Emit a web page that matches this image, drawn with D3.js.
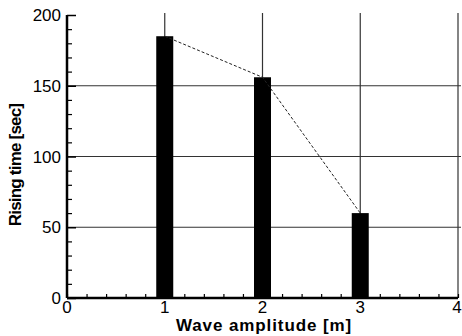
<!DOCTYPE html>
<html>
<head>
<meta charset="utf-8">
<script src="https://cdn.jsdelivr.net/npm/d3@7"></script>
<style>
  body { margin: 0; background: #fff; }
  text { font-family: "Liberation Sans", Arial, sans-serif; }
</style>
</head>
<body>
<svg id="chart"></svg>
<script>
const amplitudes = [1, 2, 3];
const risingTimes = [185, 156, 60];
const yTicks = [0, 50, 100, 150, 200];
const xTicks = [0, 1, 2, 3, 4];

const margin = {top: 15, right: 4, bottom: 38, left: 67};
const W = 462, H = 336;
const w = W - margin.left - margin.right;
const h = H - margin.top - margin.bottom;

const svg = d3.select("#chart").attr("width", W).attr("height", H);
const g = svg.append("g").attr("transform", `translate(${margin.left},${margin.top})`);

const x = d3.scaleLinear().domain([0, 4]).range([0, w]);
const y = d3.scaleLinear().domain([0, 200]).range([h, 0]);

// grid
g.selectAll(".hgrid").data([50, 100, 150]).enter().append("line")
  .attr("x1", 0).attr("x2", w + 3)
  .attr("y1", d => y(d)).attr("y2", d => y(d))
  .attr("stroke", "#333").attr("stroke-width", 1.2);
g.selectAll(".vgrid").data([1, 2, 3, 4]).enter().append("line")
  .attr("x1", d => x(d)).attr("x2", d => x(d))
  .attr("y1", y(200) - 2).attr("y2", h)
  .attr("stroke", "#333").attr("stroke-width", 1.2);

// bars
const bw = 17;
g.selectAll(".bar").data(amplitudes).enter().append("rect")
  .attr("x", d => x(d) - bw / 2)
  .attr("y", (d, i) => y(risingTimes[i]))
  .attr("width", bw)
  .attr("height", (d, i) => h - y(risingTimes[i]))
  .attr("fill", "#000");

// dashed connecting line
const line = d3.line().x(d => x(d[0])).y(d => y(d[1]));
g.append("path")
  .datum(amplitudes.map((a, i) => [a, risingTimes[i]]))
  .attr("d", line)
  .attr("fill", "none").attr("stroke", "#222").attr("stroke-width", 1)
  .attr("stroke-dasharray", "3,2");

// y axis
const yAxis = d3.axisRight(y).tickValues(yTicks).tickSize(9).tickFormat("");
const yAxisG = g.append("g").call(yAxis);
yAxisG.select(".domain").remove();
yAxisG.selectAll("line").attr("stroke", "#000").attr("stroke-width", 1.5);
const yMinor = d3.axisRight(y).tickValues(d3.range(0, 201, 10).filter(v => v % 50)).tickSize(5).tickFormat("");
const yMinorG = g.append("g").call(yMinor);
yMinorG.select(".domain").remove();
yMinorG.selectAll("line").attr("stroke", "#000").attr("stroke-width", 1.2);
g.append("line").attr("x1", 0).attr("x2", 0).attr("y1", 0).attr("y2", h)
  .attr("stroke", "#000").attr("stroke-width", 2.5);
g.selectAll(".ylab").data(yTicks).enter().append("text")
  .attr("x", -6).attr("y", d => y(d)).attr("dy", "0.36em")
  .attr("text-anchor", "end").attr("font-size", 17).text(d => d);

// x axis
const xMinor = d3.axisTop(x).tickValues(d3.range(0, 4.01, 0.2)).tickSize(4).tickFormat("");
const xMinorG = g.append("g").attr("transform", `translate(0,${h})`).call(xMinor);
xMinorG.select(".domain").remove();
xMinorG.selectAll("line").attr("stroke", "#000").attr("stroke-width", 1.2);
g.append("line").attr("x1", 0).attr("x2", w).attr("y1", h).attr("y2", h)
  .attr("stroke", "#000").attr("stroke-width", 2.5);
g.selectAll(".xlab").data(xTicks).enter().append("text")
  .attr("x", d => x(d) + (d === 4 ? -1 : 0)).attr("y", h + 15)
  .attr("text-anchor", "middle").attr("font-size", 17).text(d => d);

// titles
svg.append("text").attr("x", 264).attr("y", 331)
  .attr("text-anchor", "middle").attr("font-size", 17).attr("font-weight", "bold")
  .attr("letter-spacing", "0.9")
  .text("Wave amplitude [m]");
svg.append("text")
  .attr("transform", "translate(21,165) rotate(-90)")
  .attr("text-anchor", "middle").attr("font-size", 17).attr("font-weight", "bold")
  .attr("letter-spacing", "-0.8")
  .text("Rising time [sec]");
</script>
</body>
</html>
